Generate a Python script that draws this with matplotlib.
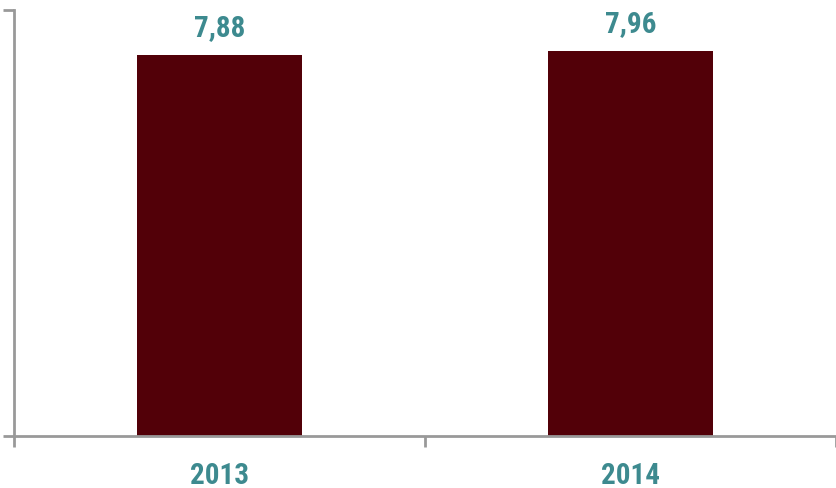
import matplotlib.pyplot as plt
import numpy as np

# --- data ---
years = ["2013", "2014"]
values = [7.88, 7.96]
value_labels = ["7,88", "7,96"]

BAR_COLOR = "#520008"
TEXT_COLOR = "#3d8a8f"
AXIS_COLOR = "#999999"
FONT = ["Roboto Condensed", "PT Sans Narrow", "DejaVu Sans"]

fig = plt.figure(figsize=(8.36, 4.88), dpi=100)
ax = fig.add_axes([14 / 836, 52 / 488, 822 / 836, 426 / 488])

x_pos = np.arange(len(years))
ax.bar(x_pos, values, width=0.4, color=BAR_COLOR)

ax.set_xlim(-0.5, 1.476)
ax.set_ylim(0, 8.81)

for sp in ["top", "right"]:
    ax.spines[sp].set_visible(False)
for sp in ["left", "bottom"]:
    ax.spines[sp].set_color(AXIS_COLOR)
    ax.spines[sp].set_linewidth(2)

# category boundary ticks on x, min/max ticks on y
ax.set_xticks([-0.5, 0.5, 1.5])
ax.set_xticklabels([])
ax.set_yticks([0, 8.81])
ax.set_yticklabels([])
ax.tick_params(axis="both", color=AXIS_COLOR, width=2, length=8, direction="out")

for i, yr in enumerate(years):
    ax.text(i, -0.99, yr, ha="center", va="baseline", fontsize=21,
            fontweight="bold", color=TEXT_COLOR, family=FONT)

for i, (v, lab) in enumerate(zip(values, value_labels)):
    ax.text(i, v + 0.39, lab, ha="center", va="baseline", fontsize=21,
            fontweight="bold", color=TEXT_COLOR, family=FONT)

fig.savefig("out.png", dpi=100)
